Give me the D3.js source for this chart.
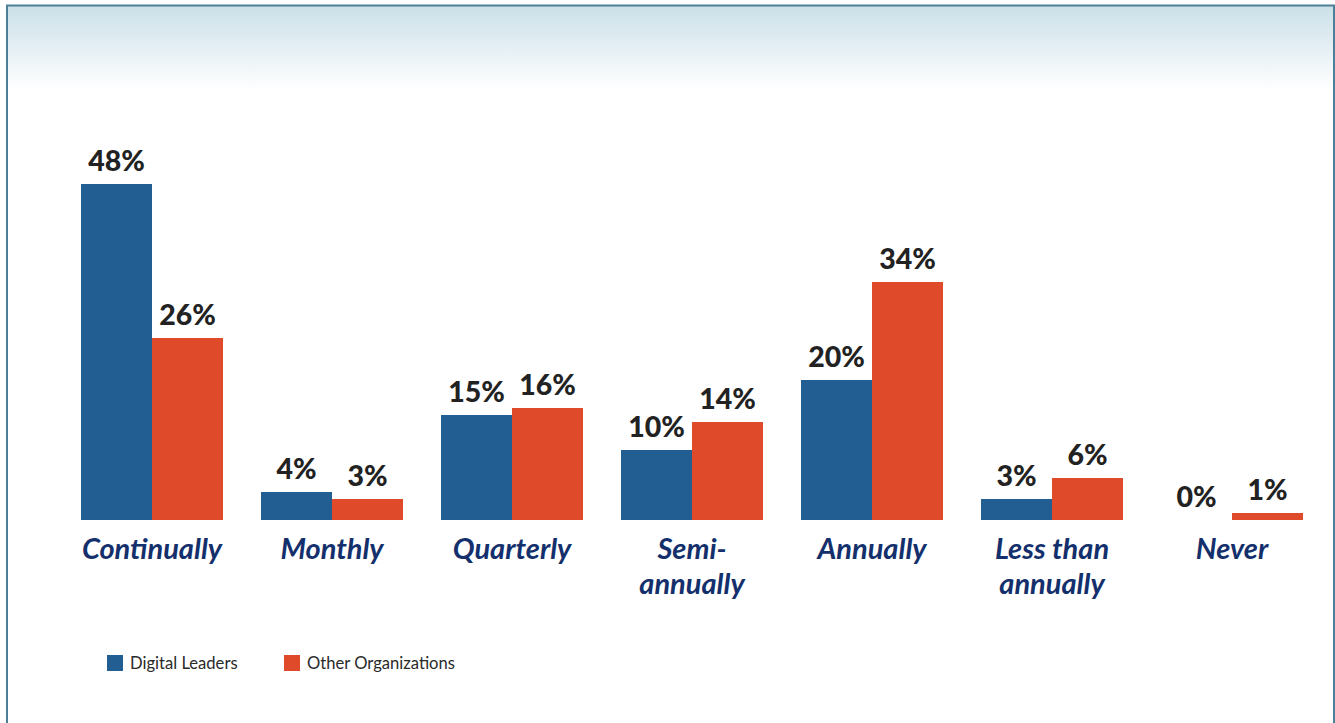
<!DOCTYPE html>
<html>
<head>
<meta charset="utf-8">
<script src="https://cdn.jsdelivr.net/npm/d3@7"></script>
<style>
  body { margin: 0; background: #fff; }
  svg { display: block; }
</style>
</head>
<body>
<script>
var width = 1335;
var height = 723;

// data
var categories = ["Continually", "Monthly", "Quarterly", "Semi-annually", "Annually", "Less than annually", "Never"];
var categoryLines = [["Continually"], ["Monthly"], ["Quarterly"], ["Semi-", "annually"], ["Annually"], ["Less than", "annually"], ["Never"]];
var seriesNames = ["Digital Leaders", "Other Organizations"];
var digitalLeaders = [48, 4, 15, 10, 20, 3, 0];
var otherOrgs = [26, 3, 16, 14, 34, 6, 1];
var colors = ["#225e91", "#df4b2a"];

var rows = categories.map(function(c, i) {
  return { cat: c, values: [digitalLeaders[i], otherOrgs[i]] };
});

var svg = d3.select("body")
  .append("svg")
  .attr("width", width)
  .attr("height", height);

// header gradient and frame
var defs = svg.append("defs");
var grad = defs.append("linearGradient")
  .attr("id", "hdr")
  .attr("x1", 0).attr("y1", 0).attr("x2", 0).attr("y2", 1);
grad.append("stop").attr("offset", "0%").attr("stop-color", "#cbe0e9");
grad.append("stop").attr("offset", "100%").attr("stop-color", "#ffffff");

svg.append("rect")
  .attr("x", 7).attr("y", 6)
  .attr("width", 1326).attr("height", 84)
  .attr("fill", "url(#hdr)");

svg.append("rect")
  .attr("x", 7).attr("y", 5.5)
  .attr("width", 1327).attr("height", 760)
  .attr("fill", "none")
  .attr("stroke", "#4c8099")
  .attr("stroke-width", 2);

// scales
var x = d3.scaleBand()
  .domain(categories)
  .range([81, 1303])
  .paddingInner(38 / 180)
  .paddingOuter(0);

var xSub = d3.scaleBand()
  .domain([0, 1])
  .range([0, x.bandwidth()]);

var y = d3.scaleLinear()
  .domain([0, 50])
  .range([520, 170]);

var groups = svg.selectAll("g.group")
  .data(rows)
  .enter()
  .append("g")
  .attr("class", "group")
  .attr("transform", function(d) { return "translate(" + x(d.cat) + ",0)"; });

var cells = groups.selectAll("g.cell")
  .data(function(d) { return d.values.map(function(v, j) { return { v: v, s: j }; }); })
  .enter()
  .append("g")
  .attr("class", "cell");

cells.append("rect")
  .attr("x", function(d) { return xSub(d.s); })
  .attr("y", function(d) { return y(d.v); })
  .attr("width", xSub.bandwidth())
  .attr("height", function(d) { return y(0) - y(d.v); })
  .attr("fill", function(d) { return colors[d.s]; });

cells.append("text")
  .attr("x", function(d) { return xSub(d.s) + xSub.bandwidth() / 2; })
  .attr("y", function(d) { return y(d.v) - 13; })
  .attr("text-anchor", "middle")
  .attr("font-family", "Lato, sans-serif")
  .attr("font-weight", 900)
  .attr("font-size", "28.5px")
  .attr("fill", "#222")
  .text(function(d) { return d.v + "%"; });

// category labels
groups.append("text")
  .attr("x", x.bandwidth() / 2)
  .attr("y", 559)
  .attr("text-anchor", "middle")
  .attr("font-family", "Lato, sans-serif")
  .attr("font-weight", "bold")
  .attr("font-style", "italic")
  .attr("font-size", "29px")
  .attr("fill", "#14306c")
  .each(function(d, i) {
    var t = d3.select(this);
    categoryLines[i].forEach(function(line, k) {
      t.append("tspan")
        .attr("x", x.bandwidth() / 2)
        .attr("dy", k === 0 ? 0 : 35)
        .text(line);
    });
  });

// legend
var legendX = [107, 284];
var legend = svg.selectAll("g.legend")
  .data(seriesNames)
  .enter()
  .append("g")
  .attr("class", "legend")
  .attr("transform", function(d, i) { return "translate(" + legendX[i] + ",655)"; });

legend.append("rect")
  .attr("width", 16)
  .attr("height", 16)
  .attr("fill", function(d, i) { return colors[i]; });

legend.append("text")
  .attr("x", 23)
  .attr("y", 14)
  .attr("font-family", "Lato, sans-serif")
  .attr("font-size", "16.6px")
  .attr("fill", "#2a2a2a")
  .text(function(d) { return d; });
</script>
</body>
</html>
